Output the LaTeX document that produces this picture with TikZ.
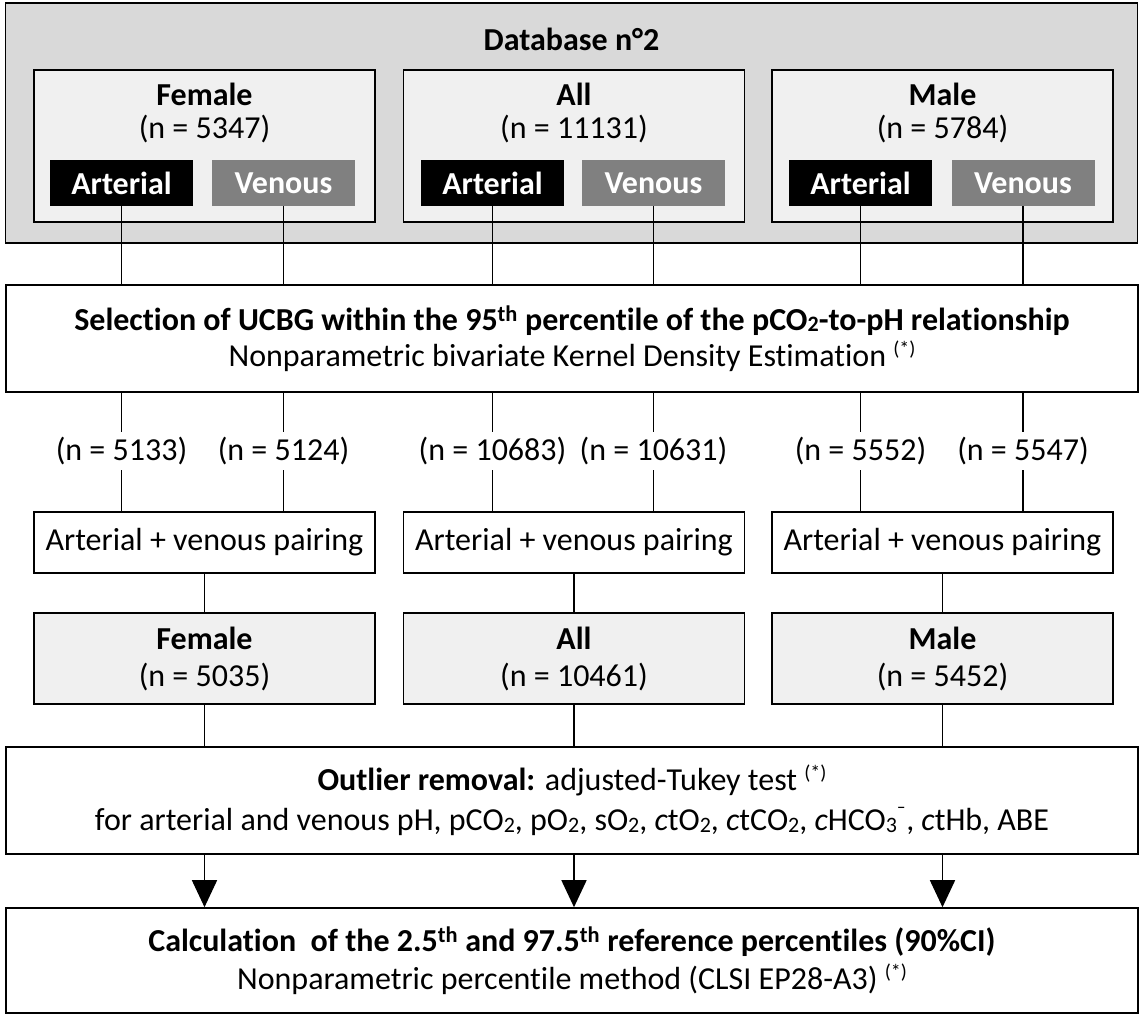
\documentclass[tikz,border=0pt]{standalone}
\usepackage{fontspec}
\setmainfont{Carlito}[Ligatures=NoCommon]
\usetikzlibrary{arrows.meta}
\definecolor{dbgrey}{HTML}{D9D9D9}
\definecolor{boxgrey}{HTML}{F0F0F0}
\definecolor{vengrey}{HTML}{808080}
\newcommand{\sbn}[1]{\raisebox{-0.05em}{\fontsize{22}{22}\selectfont #1}}
\newcommand{\sps}[1]{\raisebox{0.33em}{\fontsize{20}{20}\selectfont #1}}
\begin{document}
\begin{tikzpicture}[x=1pt,y=-1pt,
  font=\fontsize{32}{36}\selectfont,
  box/.style={draw=black, line width=1.6pt, inner sep=0pt, align=center},
  outerbox/.style={box, fill=dbgrey, minimum width=1132pt, minimum height=240pt},
  groupbox/.style={box, fill=boxgrey, minimum width=341pt, minimum height=152pt},
  artbox/.style={fill=black, text=white, font=\fontsize{32}{36}\selectfont\bfseries, minimum width=143pt, minimum height=46pt, inner sep=0pt},
  venbox/.style={fill=vengrey, text=white, font=\fontsize{32}{36}\selectfont\bfseries, minimum width=143pt, minimum height=46pt, inner sep=0pt},
  widebox/.style={box, fill=white, minimum width=1132pt},
  pairbox/.style={box, fill=white, minimum width=341pt, minimum height=61pt},
  resbox/.style={box, fill=boxgrey, minimum width=341pt, minimum height=91pt},
  nlabel/.style={inner sep=0pt, minimum height=38pt},
  conn/.style={line width=1.5pt, draw=black},
  arr/.style={conn, -{Triangle[width=25pt,length=27pt]}},
  grouptext/.style={align=center, inner sep=0pt, font=\fontsize{32}{33}\selectfont},
]
\useasboundingbox (0,0) rectangle (1142,1015);

% ---- Database block
\node[outerbox] (db) at (571.5,123) {};
\node[font=\fontsize{32}{36}\selectfont\bfseries] (dbt) at (571.5,39) {Database n°2};

\node[groupbox] (fg) at (204.5,146) {};
\node[groupbox] (ag) at (574,146) {};
\node[groupbox] (mg) at (942.5,146) {};

\node[grouptext] (fgt) at (204.5,112.5) {\textbf{Female}\\(n = 5347)};
\node[grouptext] (agt) at (574,112.5) {\textbf{All}\\(n = 11131)};
\node[grouptext] (mgt) at (942.5,112.5) {\textbf{Male}\\(n = 5784)};

\node[artbox] (fa) at (121.5,183) {Arterial};
\node[venbox] (fv) at (283.5,183) {Venous};
\node[artbox] (aa) at (492.5,183) {Arterial};
\node[venbox] (av) at (653.5,183) {Venous};
\node[artbox] (ma) at (860.5,183) {Arterial};
\node[venbox] (mv) at (1023,183) {Venous};

% ---- Selection
\node[widebox, minimum height=107pt] (sel) at (572,338.5)
  {\textbf{Selection of UCBG within the 95\textsuperscript{th} percentile of the pCO\sbn{2}-to-pH relationship}\\
   Nonparametric bivariate Kernel Density Estimation \sps{(*)}};

% ---- n labels
\node[nlabel] (nfa) at (121.5,451) {(n = 5133)};
\node[nlabel] (nfv) at (283.5,451) {(n = 5124)};
\node[nlabel] (naa) at (492.5,451) {(n = 10683)};
\node[nlabel] (nav) at (653.5,451) {(n = 10631)};
\node[nlabel] (nma) at (860.5,451) {(n = 5552)};
\node[nlabel] (nmv) at (1023,451) {(n = 5547)};

% ---- Pairing
\node[pairbox] (fp) at (204.5,542.5) {Arterial + venous pairing};
\node[pairbox] (ap) at (574,542.5) {Arterial + venous pairing};
\node[pairbox] (mp) at (942.5,542.5) {Arterial + venous pairing};

% ---- Result groups
\node[resbox, font=\fontsize{32}{37}\selectfont] (fr) at (204.5,658.5) {\textbf{Female}\\(n = 5035)};
\node[resbox, font=\fontsize{32}{37}\selectfont] (ar) at (574,658.5) {\textbf{All}\\(n = 10461)};
\node[resbox, font=\fontsize{32}{37}\selectfont] (mr) at (942.5,658.5) {\textbf{Male}\\(n = 5452)};

% ---- Outlier
\node[widebox, minimum height=107pt, font=\fontsize{32}{40}\selectfont] (out) at (572,800.5)
  {\textbf{Outlier removal:} adjusted-Tukey test \sps{(*)}\\
   for arterial and venous pH, pCO\sbn{2}, pO\sbn{2}, sO\sbn{2}, \textit{c}tO\sbn{2}, \textit{c}tCO\sbn{2}, \textit{c}HCO\sbn{3}\textsuperscript{¯}, \textit{c}tHb, ABE};

% ---- Calculation
\node[widebox, minimum height=105pt, font=\fontsize{32}{38}\selectfont] (calc) at (572,960.5)
  {\textbf{Calculation\ \ of the 2.5\textsuperscript{th} and 97.5\textsuperscript{th} reference percentiles (90\%CI)}\\
   Nonparametric percentile method (CLSI EP28-A3) \sps{(*)}};

% ---- connectors
\foreach \s in {fa,fv,aa,av,ma,mv}
  \draw[conn] (\s.south) -- (\s.south |- sel.north);
\foreach \l in {nfa,nfv,naa,nav,nma,nmv}
  \draw[conn] (sel.south -| \l.north) -- (\l.north);
\draw[conn] (nfa.south) -- (nfa.south |- fp.north);
\draw[conn] (nfv.south) -- (nfv.south |- fp.north);
\draw[conn] (naa.south) -- (naa.south |- ap.north);
\draw[conn] (nav.south) -- (nav.south |- ap.north);
\draw[conn] (nma.south) -- (nma.south |- mp.north);
\draw[conn] (nmv.south) -- (nmv.south |- mp.north);

\draw[conn] (fp.south) -- (fr.north);
\draw[conn] (ap.south) -- (ar.north);
\draw[conn] (mp.south) -- (mr.north);

\draw[conn] (fr.south) -- (fr.south |- out.north);
\draw[conn] (ar.south) -- (ar.south |- out.north);
\draw[conn] (mr.south) -- (mr.south |- out.north);

\draw[arr] (out.south -| fr.south) -- (fr.south |- calc.north);
\draw[arr] (out.south -| ar.south) -- (ar.south |- calc.north);
\draw[arr] (out.south -| mr.south) -- (mr.south |- calc.north);
\end{tikzpicture}
\end{document}
